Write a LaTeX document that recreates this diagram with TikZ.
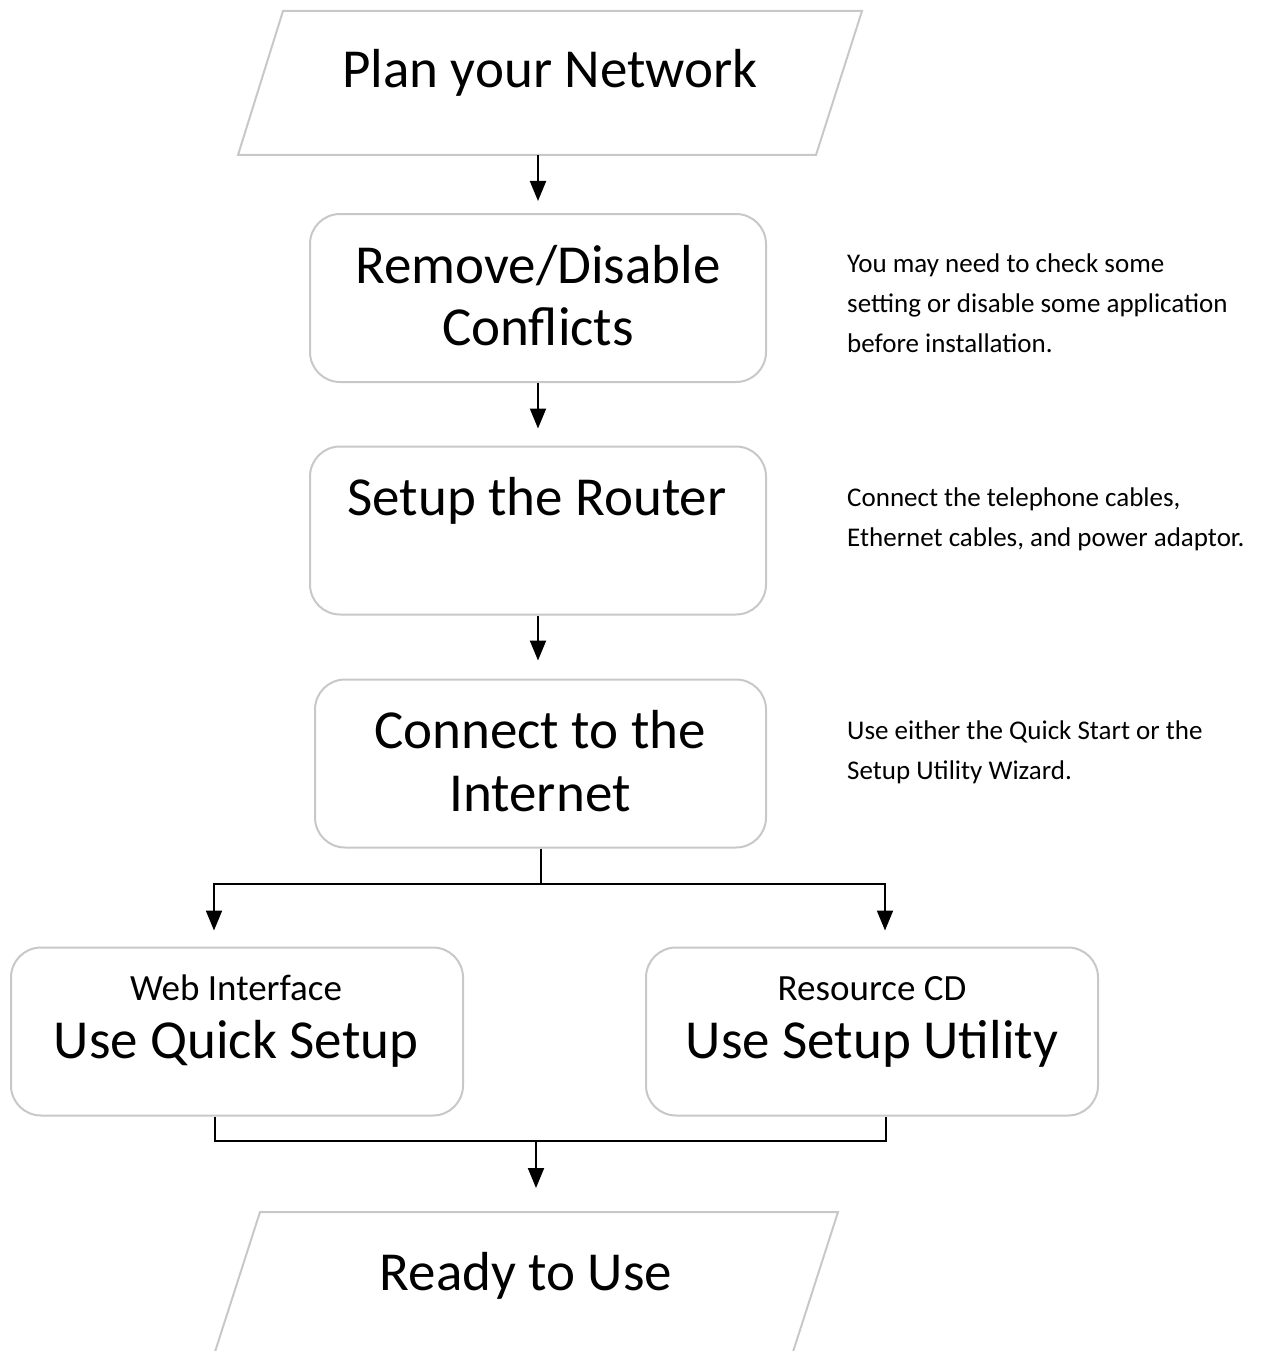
\documentclass[tikz,border=0pt]{standalone}
\usepackage{fontspec}
\setmainfont{Carlito}
\usetikzlibrary{arrows.meta,calc}
\definecolor{boxgray}{RGB}{200,200,200}
\newcommand{\bigfont}{\fontsize{55}{62}\selectfont}
\newcommand{\midfont}{\fontsize{37}{44}\selectfont}
\newcommand{\notefont}{\fontsize{27}{40}\selectfont}
\tikzset{
  stepbox/.style={draw=boxgray, line width=2pt, rounded corners=30pt, minimum width=456pt, minimum height=168pt, inner sep=0pt},
  ioline/.style={draw=boxgray, line width=2pt, line join=miter},
  bigtext/.style={font=\bigfont, anchor=base, inner sep=0pt},
  midtext/.style={font=\midfont, anchor=base, inner sep=0pt},
  notetext/.style={font=\notefont, anchor=base west, align=left, inner sep=0pt},
  wire/.style={line width=2pt},
  flow/.style={wire, -{Triangle[width=16pt,length=20pt]}},
}
\begin{document}
\begin{tikzpicture}[x=1pt,y=-1pt]
			\useasboundingbox (0,0) rectangle (1269,1351);
			\clip (0,0) rectangle (1269,1351);
			%paralelogramos
			\draw[ioline] (283,11) -- (862,11) -- (816,155) -- (238,155) -- cycle;
			\coordinate (planbot) at (538,155);
			\draw[ioline] (260,1212) -- (838,1212) -- (791,1358) -- (213,1358) -- cycle;
			\coordinate (readytop) at (536,1212);
			%cajas
			\node[stepbox] (remove) at (538,298) {};
			\node[stepbox] (router) at (538,530.5) {};
			\node[stepbox, minimum width=451pt] (connect) at (540.5,763.5) {};
			\node[stepbox, minimum width=452pt] (quick) at (237,1031.5) {};
			\node[stepbox, minimum width=452pt] (setupu) at (872,1031.5) {};
			%textos
			\node[bigtext] (plantext) at (550,88) {Plan your Network};
			\node[bigtext] (removetext) at (538,283) {Remove/Disable};
			\node[bigtext] (conflicttext) at (538,345) {Conflicts};
			\node[bigtext] (routertext) at (537,515) {Setup the Router};
			\node[bigtext] (connecttext) at (540,748) {Connect to the};
			\node[bigtext] (internettext) at (540,811) {Internet};
			\node[midtext] (webtext) at (236,1000) {Web Interface};
			\node[bigtext] (quicktext) at (236,1058) {Use Quick Setup};
			\node[midtext] (cdtext) at (872,1000) {Resource CD};
			\node[bigtext] (utiltext) at (872,1058) {Use Setup Utility};
			\node[bigtext] (readytext) at (526,1290) {Ready to Use};
			%notas
			\node[notetext] (removenote) at (847,352) {You may need to check some\\setting or disable some application\\before installation.};
			\node[notetext] (routernote) at (847,546) {Connect the telephone cables,\\Ethernet cables, and power adaptor.};
			\node[notetext] (connectnote) at (847,779) {Use either the Quick Start or the\\Setup Utility Wizard.};
			%flechas
			\draw[flow, shorten >=12pt] (planbot) -- (planbot |- remove.north);
			\draw[flow, shorten >=17pt] (remove) -- (router);
			\draw[flow, shorten >=18pt] (router.south) -- (router.south |- connect.north);
			\draw[wire] (connect.south) -- ++(0,35) coordinate (split);
			\draw[flow, shorten >=16pt] (split) -| ([xshift=-23pt]quick.north);
			\draw[flow, shorten >=16pt] (split) -| ([xshift=13pt]setupu.north);
			\coordinate (merge) at (536,1141);
			\draw[wire] ([xshift=-22pt]quick.south) |- (merge) -| ([xshift=14pt]setupu.south);
			\draw[flow, shorten >=24pt] (merge) -- (readytop);
\end{tikzpicture}
\end{document}
